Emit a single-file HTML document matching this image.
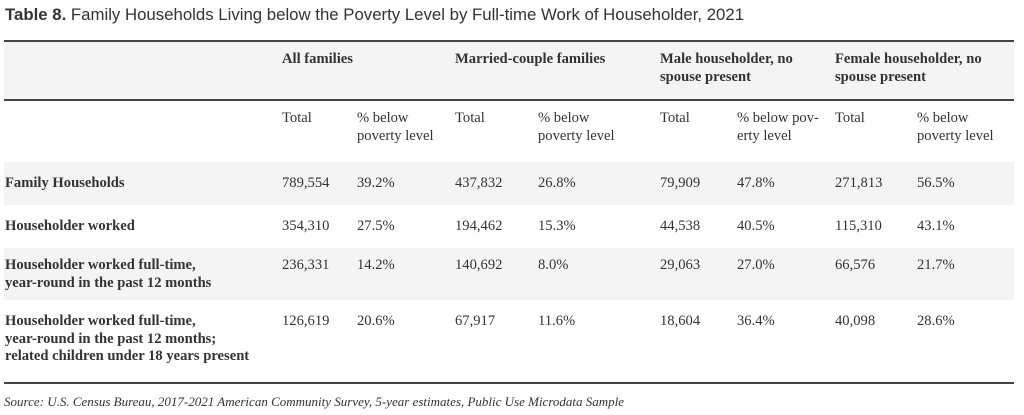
<!DOCTYPE html>
<html><head><style>
body{margin:0;width:1024px;height:415px;background:#fff;position:relative;overflow:hidden;font-family:"Liberation Serif",serif;font-size:14.6px;color:#333;}
.a{position:absolute;line-height:17.5px;white-space:nowrap}
.b{font-weight:bold}
.band{position:absolute;left:4px;width:1010px;background:#f4f4f4}
.rule{position:absolute;left:4px;width:1010px;height:2px;background:#444}
.t{font-family:"Liberation Sans",sans-serif;font-size:16.8px;color:#333;top:5px;left:5px;line-height:20px}
.s{font-style:italic;font-size:13px}
</style></head><body>
<div class="a t"><b>Table 8.</b> Family Households Living below the Poverty Level by Full-time Work of Householder, 2021</div>
<div class="band" style="top:42px;height:58px"></div>
<div class="band" style="top:162px;height:43px"></div>
<div class="band" style="top:248px;height:52px"></div>
<div class="rule" style="top:40px"></div>
<div class="rule" style="top:99px"></div>
<div class="rule" style="top:382px"></div>

<div class="a b" style="left:282px;top:51px">All families</div>
<div class="a b" style="left:455px;top:51px">Married-couple families</div>
<div class="a b" style="left:660px;top:51px">Male householder, no<br>spouse present</div>
<div class="a b" style="left:835px;top:51px">Female householder, no<br>spouse present</div>

<div class="a" style="left:282px;top:110px">Total</div>
<div class="a" style="left:357px;top:110px">% below<br>poverty level</div>
<div class="a" style="left:455px;top:110px">Total</div>
<div class="a" style="left:538px;top:110px">% below<br>poverty level</div>
<div class="a" style="left:660px;top:110px">Total</div>
<div class="a" style="left:737px;top:110px">% below pov-<br>erty level</div>
<div class="a" style="left:835px;top:110px">Total</div>
<div class="a" style="left:917px;top:110px">% below<br>poverty level</div>

<div class="a b" style="left:5px;top:175px">Family Households</div>
<div class="a" style="left:282px;top:175px">789,554</div><div class="a" style="left:357px;top:175px">39.2%</div>
<div class="a" style="left:455px;top:175px">437,832</div><div class="a" style="left:538px;top:175px">26.8%</div>
<div class="a" style="left:660px;top:175px">79,909</div><div class="a" style="left:737px;top:175px">47.8%</div>
<div class="a" style="left:835px;top:175px">271,813</div><div class="a" style="left:917px;top:175px">56.5%</div>

<div class="a b" style="left:5px;top:218px">Householder worked</div>
<div class="a" style="left:282px;top:218px">354,310</div><div class="a" style="left:357px;top:218px">27.5%</div>
<div class="a" style="left:455px;top:218px">194,462</div><div class="a" style="left:538px;top:218px">15.3%</div>
<div class="a" style="left:660px;top:218px">44,538</div><div class="a" style="left:737px;top:218px">40.5%</div>
<div class="a" style="left:835px;top:218px">115,310</div><div class="a" style="left:917px;top:218px">43.1%</div>

<div class="a b" style="left:5px;top:257px">Householder worked full-time,<br>year-round in the past 12 months</div>
<div class="a" style="left:282px;top:257px">236,331</div><div class="a" style="left:357px;top:257px">14.2%</div>
<div class="a" style="left:455px;top:257px">140,692</div><div class="a" style="left:538px;top:257px">8.0%</div>
<div class="a" style="left:660px;top:257px">29,063</div><div class="a" style="left:737px;top:257px">27.0%</div>
<div class="a" style="left:835px;top:257px">66,576</div><div class="a" style="left:917px;top:257px">21.7%</div>

<div class="a b" style="left:5px;top:313px">Householder worked full-time,<br>year-round in the past 12 months;<br>related children under 18 years present</div>
<div class="a" style="left:282px;top:313px">126,619</div><div class="a" style="left:357px;top:313px">20.6%</div>
<div class="a" style="left:455px;top:313px">67,917</div><div class="a" style="left:538px;top:313px">11.6%</div>
<div class="a" style="left:660px;top:313px">18,604</div><div class="a" style="left:737px;top:313px">36.4%</div>
<div class="a" style="left:835px;top:313px">40,098</div><div class="a" style="left:917px;top:313px">28.6%</div>

<div class="a s" style="left:4px;top:393px">Source: U.S. Census Bureau, 2017-2021 American Community Survey, 5-year estimates, Public Use Microdata Sample</div>
</body></html>
